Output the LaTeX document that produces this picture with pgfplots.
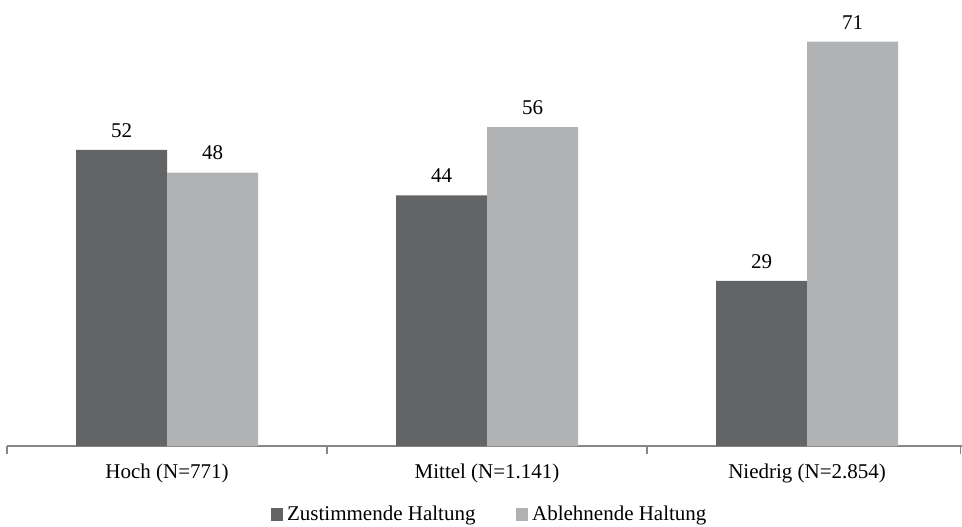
\documentclass[border=0pt]{standalone}
\usepackage{pgfplots}
\pgfplotsset{compat=1.18}
\usepackage{fontspec}
\setmainfont{Liberation Serif}
\definecolor{darkbar}{HTML}{636466}
\definecolor{lightbar}{HTML}{B1B2B4}
\definecolor{axisgray}{HTML}{868686}
\begin{document}
\begin{tikzpicture}[font=\fontsize{10.5pt}{12pt}\selectfont]
\begin{axis}[
  name=ax,
  scale only axis,
  width=477.5pt, height=223pt,
  xmin=-0.5, xmax=2.484,
  ymin=0, ymax=78.3,
  axis x line*=bottom,
  axis y line=none,
  x axis line style={draw=axisgray, line width=0.7pt},
  xtick={0,1,2},
  xticklabels={Hoch (N=771), Mittel (N=1.141), Niedrig (N=2.854)},
  major x tick style={draw=none},
  minor xtick={-0.5,0.5,1.5,2.48},
  minor tick length=4pt,
  minor x tick style={draw=axisgray, line width=0.6pt},
  xtick align=outside,
  xticklabel style={anchor=north, inner sep=0pt, yshift=-4.5pt},
  /pgf/number format/assume math mode=true,
  ybar=0pt,
  bar width=45.5pt,
  nodes near coords,
  every node near coord/.append style={font=\fontsize{10.5pt}{12pt}\selectfont, inner sep=0pt, anchor=south, yshift=6pt},
  legend columns=2,
  legend style={draw=none, fill=none, at={(0.5,0)}, anchor=center, yshift=-34.5pt, xshift=3pt,
    /tikz/every even column/.append style={column sep=18pt}},
  legend image code/.code={\fill[#1,draw=none] (0pt,-3pt) rectangle (6.3pt,3.3pt);},
  clip=false,
]
\addplot[fill=darkbar, draw=none, bar shift=-22.75pt] coordinates {(0,52) (1,44) (2,29)};
\addplot[fill=lightbar, draw=none, bar shift=22.75pt] coordinates {(0,48) (1,56) (2,71)};
\legend{Zustimmende Haltung, Ablehnende Haltung}
\coordinate (BL) at (rel axis cs:0,0);
\coordinate (TR) at (rel axis cs:1,1);
\end{axis}
\pgfresetboundingbox
\useasboundingbox ([xshift=-3.5pt,yshift=-40pt]BL) rectangle (TR);
\end{tikzpicture}
\end{document}
